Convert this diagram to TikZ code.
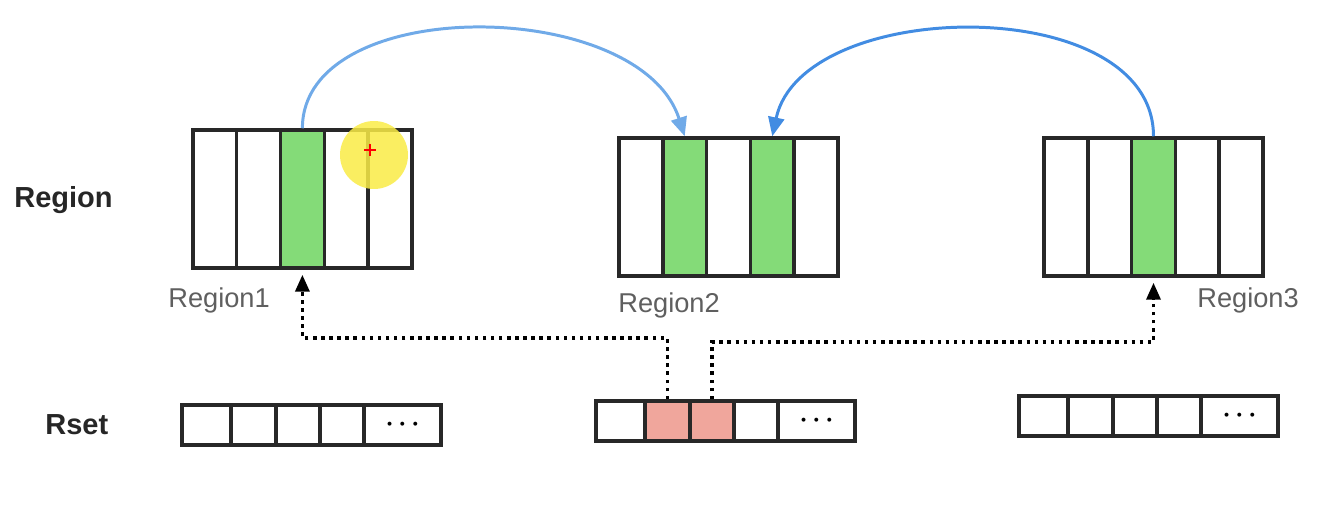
\documentclass[tikz,border=0pt]{standalone}
\usepackage{fontspec}
\setmainfont{Liberation Sans}
\usetikzlibrary{arrows.meta}

\definecolor{cellgreen}{RGB}{132,219,120}
\definecolor{cellpink}{RGB}{240,166,156}
\definecolor{arclight}{RGB}{112,170,232}
\definecolor{arcdark}{RGB}{66,140,226}
\definecolor{boxline}{RGB}{40,40,40}
\definecolor{labelgray}{RGB}{95,95,95}
\definecolor{cursoryellow}{RGB}{250,236,70}

\tikzset{
    rcell/.style={draw=boxline, line width=2pt, minimum width=0.876cm, minimum height=2.76cm, inner sep=0pt},
    scell/.style={draw=boxline, line width=2pt, minimum height=0.8cm, inner sep=0pt},
    rowname/.style={font=\bfseries\fontsize{16.5}{18}\selectfont, text=black!85, anchor=base west, inner sep=0pt},
    regname/.style={font=\fontsize{15.5}{18}\selectfont, text=labelgray, anchor=base west, inner sep=0pt},
    movearc/.style={line width=1.7pt, -{Triangle[length=0.38cm, width=0.32cm]}},
    refline/.style={line width=2pt, dash pattern=on 2pt off 2.6pt, -{Triangle[length=0.34cm, width=0.28cm]}, shorten >=0.1cm}
}

\begin{document}
\begin{tikzpicture}[x=0.02cm, y=-0.02cm]
    \useasboundingbox (0,0) rectangle (1323,516);
    % regions
    \foreach \i/\c in {1/white,2/white,3/cellgreen,4/white,5/white}
        \node[rcell, fill=\c] (ra\i) at (171+43.8*\i,199) {};
    \foreach \i/\c in {1/white,2/cellgreen,3/white,4/cellgreen,5/white}
        \node[rcell, fill=\c] (rb\i) at (597.1+43.8*\i,207) {};
    \foreach \i/\c in {1/white,2/white,3/cellgreen,4/white,5/white}
        \node[rcell, fill=\c] (rc\i) at (1022.1+43.8*\i,207) {};
    % rsets
    \foreach \n/\x/\y/\fa/\fb in {sa/182/425/white/white, sb/596/421/cellpink/cellpink, sc/1019/416/white/white}
        \foreach \i/\c/\w/\f in {1/24.5/0.98/white, 2/71.5/0.9/\fa, 3/116/0.88/\fb, 4/160/0.88/white, 5/220.5/1.54/white}
            \node[scell, fill=\f, minimum width=\w cm] (\n\i) at (\x+\c,\y) {};
    \foreach \n in {sa,sb,sc}
        \node[font=\boldmath\Large] at (\n5) {$\cdots$};

    \node[rowname] (rowregion) at (14,208) {Region};
    \node[rowname] (rowrset) at (45,435) {Rset};
    \node[regname] (nameone) at (168,308) {Region1};
    \node[regname] (nametwo) at (618,313) {Region2};
    \node[regname] (namethree) at (1197,308) {Region3};

    % references
    \draw[movearc, arclight] (ra3.north) .. controls +(0,-135) and +(-45,-140) .. (rb2.north);
    \draw[movearc, arcdark] (rc3.north) .. controls +(0,-145) and +(30,-140) .. (rb4.north);
    \coordinate (lvla) at (0,338);
    \coordinate (lvlb) at (0,342);
    \draw[refline] (sb2.north) -- (sb2.north |- lvla) -| (ra3.south);
    \draw[refline] (sb3.north) -- (sb3.north |- lvlb) -| (rc3.south);

    % cursor
    \fill[cursoryellow, opacity=0.85] (374,155) circle[radius=0.68cm];
    \draw[red, line width=0.8pt] (364,150) -- (376,150) (370,144) -- (370,156);
\end{tikzpicture}
\end{document}
